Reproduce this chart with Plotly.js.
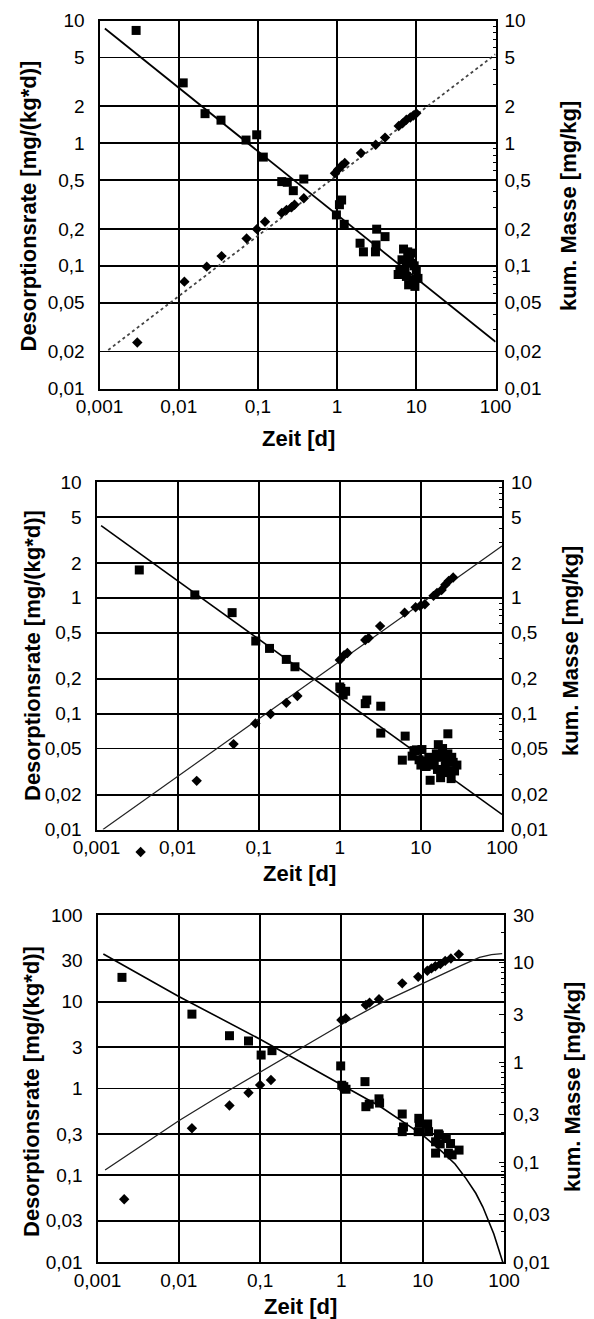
<!DOCTYPE html>
<html><head><meta charset="utf-8">
<script src="https://cdn.plot.ly/plotly-3.0.1.min.js"></script>
<style>html,body{margin:0;padding:0;background:#fff}</style>
</head><body>
<div id="chart" style="width:594px;height:1319px"></div>
<script>
// ---------- tick labels ----------
const xTickVals = [0.001, 0.01, 0.1, 1, 10, 100];
const xTickText = ['0,001', '0,01', '0,1', '1', '10', '100'];
const yTickValsA = [0.01, 0.02, 0.05, 0.1, 0.2, 0.5, 1, 2, 5, 10];
const yTickTextA = ['0,01', '0,02', '0,05', '0,1', '0,2', '0,5', '1', '2', '5', '10'];
const yTickValsC = [0.01, 0.03, 0.1, 0.3, 1, 3, 10, 30, 100];
const yTickTextC = ['0,01', '0,03', '0,1', '0,3', '1', '3', '10', '30', '100'];
const y2TickValsC = [0.01, 0.03, 0.1, 0.3, 1, 3, 10, 30];
const y2TickTextC = ['0,01', '0,03', '0,1', '0,3', '1', '3', '10', '30'];

const xTitle = 'Zeit [d]';
const yTitle = 'Desorptionsrate [mg/(kg*d)]';
const y2Title = 'kum. Masse [mg/kg]';

// ---------- panel 1 ----------
const p1RateX = [0.0029, 0.0114, 0.0215, 0.0342, 0.0708, 0.0966, 0.117, 0.20, 0.235, 0.28, 0.38, 0.98, 1.07, 1.14, 1.23, 1.95, 2.15, 3.16, 3.1, 3.05, 4.03, 5.9, 6.2, 6.6, 6.9, 7.2, 7.5, 7.5, 8.2, 8.7, 8.9, 9.1, 9.6, 10.0, 10.5, 8.0, 9.4, 7.8];
const p1RateY = [8.3, 3.1, 1.74, 1.54, 1.06, 1.17, 0.77, 0.486, 0.48, 0.41, 0.51, 0.26, 0.315, 0.344, 0.218, 0.153, 0.13, 0.199, 0.148, 0.13, 0.173, 0.085, 0.092, 0.112, 0.137, 0.092, 0.082, 0.108, 0.12, 0.105, 0.127, 0.077, 0.068, 0.092, 0.079, 0.07, 0.1, 0.13];
const p1MassX = [0.0030, 0.0118, 0.0226, 0.0348, 0.072, 0.097, 0.123, 0.20, 0.23, 0.266, 0.29, 0.38, 0.94, 1.03, 1.14, 1.25, 2.0, 3.07, 4.03, 6.0, 6.7, 7.5, 8.4, 9.2, 10];
const p1MassY = [0.0237, 0.0743, 0.0985, 0.12, 0.167, 0.199, 0.229, 0.27, 0.286, 0.30, 0.315, 0.356, 0.569, 0.61, 0.655, 0.69, 0.83, 0.97, 1.11, 1.38, 1.45, 1.55, 1.62, 1.68, 1.75];
const p1RateFitX = [0.00117, 100];
const p1RateFitY = [8.6, 0.024];
const p1MassFitX = [0.00129, 100];
const p1MassFitY = [0.0206, 5.3];

// ---------- panel 2 ----------
const p2RateX = [0.00337, 0.0163, 0.047, 0.092, 0.136, 0.219, 0.28, 1.0, 1.03, 1.1, 1.18, 2.06, 2.15, 3.2, 3.2, 6.4, 5.9, 8.2, 8.8, 10.3, 10.0, 11.6, 11.7, 13.0, 14.6, 15.5, 16.4, 17.2, 18.2, 19.2, 20.3, 21.5, 21.5, 22.4, 23.6, 25.0, 27.8, 12.5, 16, 18.5, 20, 24, 26, 17.5, 14, 7.8, 9.5];
const p2RateY = [1.74, 1.06, 0.745, 0.424, 0.366, 0.294, 0.254, 0.17, 0.165, 0.145, 0.156, 0.122, 0.131, 0.116, 0.068, 0.064, 0.0397, 0.048, 0.0487, 0.049, 0.036, 0.035, 0.039, 0.0266, 0.036, 0.045, 0.054, 0.042, 0.043, 0.031, 0.039, 0.067, 0.045, 0.032, 0.0275, 0.038, 0.036, 0.042, 0.033, 0.05, 0.035, 0.042, 0.032, 0.028, 0.04, 0.043, 0.04];
const p2MassX = [0.0035, 0.0172, 0.049, 0.091, 0.14, 0.219, 0.3, 1.0, 1.13, 1.24, 2.06, 2.27, 3.14, 6.3, 8.6, 9.8, 11.2, 14.3, 15.8, 18, 20, 22, 25];
const p2MassY = [0.0064, 0.0263, 0.0546, 0.0824, 0.0993, 0.124, 0.142, 0.29, 0.32, 0.334, 0.432, 0.45, 0.57, 0.745, 0.83, 0.85, 0.88, 1.04, 1.1, 1.17, 1.3, 1.4, 1.5];
const p2RateFitX = [0.00114, 100];
const p2RateFitY = [4.2, 0.0135];
const p2MassFitX = [0.0012, 100];
const p2MassFitY = [0.01, 2.8];

// ---------- panel 3 ----------
const p3RateX = [0.002, 0.0145, 0.042, 0.072, 0.103, 0.14, 0.98, 1.01, 1.07, 1.14, 1.95, 2.0, 2.2, 2.9, 2.95, 5.6, 5.6, 5.8, 8.96, 9.1, 8.8, 11.5, 11.8, 15.6, 16.4, 14.4, 16, 19.5, 22, 20.7, 23, 28, 14.4];
const p3RateY = [19.1, 7.2, 4.06, 3.53, 2.43, 2.73, 1.82, 1.09, 1.05, 0.98, 1.2, 0.617, 0.66, 0.76, 0.68, 0.508, 0.318, 0.36, 0.453, 0.40, 0.318, 0.39, 0.318, 0.30, 0.23, 0.243, 0.29, 0.265, 0.232, 0.18, 0.172, 0.195, 0.18];
const p3MassX = [0.00213, 0.0145, 0.042, 0.072, 0.1, 0.136, 1.0, 1.13, 2.0, 2.22, 2.9, 5.6, 8.8, 11.4, 12.8, 14.3, 16.5, 18.9, 22.2, 27.8];
const p3MassY = [0.0425, 0.219, 0.37, 0.497, 0.594, 0.667, 2.66, 2.76, 3.76, 3.97, 4.29, 6.2, 7.2, 8.3, 8.75, 9.2, 9.7, 10.4, 11.0, 12.1];
const p3RateFitX = [0.00118, 0.01, 0.1, 1, 3, 6.8, 10, 17, 25, 34, 45, 55, 65, 75, 85, 95, 98];
const p3RateFitY = [35.5, 11.5, 3.7, 1.12, 0.62, 0.37, 0.29, 0.19, 0.135, 0.092, 0.062, 0.043, 0.030, 0.021, 0.0145, 0.0104, 0.0095];
const p3MassFitX = [0.00124, 0.003, 0.01, 0.03, 0.1, 0.3, 1, 3, 10, 20, 30, 50, 70, 95];
const p3MassFitY = [0.0835, 0.135, 0.26, 0.45, 0.80, 1.35, 2.4, 3.9, 6.2, 8.1, 9.4, 11.3, 12.0, 12.3];

// ---------- styles ----------
const FONT = 'Liberation Sans, Arial, sans-serif';
const tickFont = {family: FONT, size: 19, color: '#000'};
const titleFont = {family: FONT, size: 22, color: '#000', weight: 700};

function minorVals(lo, hi) {
  const v = [];
  for (let e = lo; e < hi; e++) for (let k = 2; k <= 9; k++) v.push(k * Math.pow(10, e));
  return v;
}

function xAxis(domain, anchor) {
  return {domain: domain, anchor: anchor, type: 'log', range: [-3, 2],
    tickmode: 'array', tickvals: xTickVals, ticktext: xTickText, tickfont: tickFont,
    ticks: '', ticklabelstandoff: 0,
    showgrid: true, gridcolor: '#000', gridwidth: 1.8,
    showline: true, mirror: true, linecolor: '#000', linewidth: 2, zeroline: false, fixedrange: true};
}
function yAxis(domain, anchor, range, vals, text) {
  return {domain: domain, anchor: anchor, type: 'log', range: range,
    tickmode: 'array', tickvals: vals, ticktext: text, tickfont: tickFont,
    ticks: '', ticklabelstandoff: 9,
    showgrid: true, gridcolor: '#000', gridwidth: 1.8,
    showline: true, mirror: true, linecolor: '#000', linewidth: 2, zeroline: false, fixedrange: true};
}
function y2Axis(overlay, anchor, range, vals, text, lo, hi) {
  return {overlaying: overlay, anchor: anchor, side: 'right', type: 'log', range: range,
    tickmode: 'array', tickvals: vals, ticktext: text, tickfont: tickFont,
    ticks: 'inside', ticklen: 5, tickcolor: '#000', ticklabelstandoff: 8,
    minor: {tickmode: 'array', tickvals: minorVals(lo, hi), ticks: 'inside', ticklen: 3, tickcolor: '#000', showgrid: false},
    showgrid: false, showline: false, zeroline: false, fixedrange: true};
}

const sq = {symbol: 'square', size: 9, color: '#000'};
const dm = {symbol: 'diamond', size: 8, color: '#000'};

const traces = [
  // panel 1
  {x: p1RateFitX, y: p1RateFitY, xaxis: 'x', yaxis: 'y', mode: 'lines', line: {color: '#000', width: 1.8}},
  {x: p1MassFitX, y: p1MassFitY, xaxis: 'x', yaxis: 'y2', mode: 'lines', line: {color: '#444', width: 1.8, dash: 'dot'}},
  {x: p1RateX, y: p1RateY, xaxis: 'x', yaxis: 'y', mode: 'markers', marker: sq, cliponaxis: false},
  {x: p1MassX, y: p1MassY, xaxis: 'x', yaxis: 'y2', mode: 'markers', marker: dm, cliponaxis: false},
  // panel 2
  {x: p2RateFitX, y: p2RateFitY, xaxis: 'x2', yaxis: 'y3', mode: 'lines', line: {color: '#000', width: 1.6}},
  {x: p2MassFitX, y: p2MassFitY, xaxis: 'x2', yaxis: 'y4', mode: 'lines', line: {color: '#222', width: 1.2}},
  {x: p2RateX, y: p2RateY, xaxis: 'x2', yaxis: 'y3', mode: 'markers', marker: sq, cliponaxis: false},
  // diamonds of panel 2 on a hidden twin scale that reaches a little below the frame (one point lies under it)
  {x: p2MassX, y: p2MassY, xaxis: 'x4', yaxis: 'y7', mode: 'markers', marker: dm, cliponaxis: false},
  // panel 3
  {x: p3RateFitX, y: p3RateFitY, xaxis: 'x3', yaxis: 'y5', mode: 'lines', line: {color: '#000', width: 1.6}},
  {x: p3MassFitX, y: p3MassFitY, xaxis: 'x3', yaxis: 'y6', mode: 'lines', line: {color: '#222', width: 1.3}},
  {x: p3RateX, y: p3RateY, xaxis: 'x3', yaxis: 'y5', mode: 'markers', marker: sq, cliponaxis: false},
  {x: p3MassX, y: p3MassY, xaxis: 'x3', yaxis: 'y6', mode: 'markers', marker: dm, cliponaxis: false}
].map(t => Object.assign({type: 'scatter', hoverinfo: 'skip', showlegend: false}, t));

const W = 594, H = 1319;
function ann(text, px, py, angle, font) {
  return {text: text, x: px / W, y: 1 - py / H, xref: 'paper', yref: 'paper',
    xanchor: 'center', yanchor: 'middle', showarrow: false, textangle: angle, font: font};
}

// panel 2 geometry: 3 decades over 482..829.5 px; hidden twin extends 30 px lower
const p2Top = 482, p2Bot = 829.5, p2Ext = 30;
const p2PxPerDec = (p2Bot - p2Top) / 3;

const layout = {
  width: W, height: H, margin: {l: 0, r: 0, t: 0, b: 0},
  paper_bgcolor: '#fff', plot_bgcolor: 'rgba(0,0,0,0)', showlegend: false,
  xaxis: xAxis([99.5 / W, 495.5 / W], 'y'),
  yaxis: yAxis([1 - 388.5 / H, 1 - 20.5 / H], 'x', [-2, 1], yTickValsA, yTickTextA),
  yaxis2: y2Axis('y', 'x', [-2, 1], yTickValsA, yTickTextA, -2, 1),
  xaxis2: xAxis([96.5 / W, 502 / W], 'y3'),
  yaxis3: yAxis([1 - p2Bot / H, 1 - p2Top / H], 'x2', [-2, 1], yTickValsA, yTickTextA),
  yaxis4: y2Axis('y3', 'x2', [-2, 1], yTickValsA, yTickTextA, -2, 1),
  xaxis4: {domain: [96.5 / W, 502 / W], anchor: 'y7', type: 'log', range: [-3, 2], visible: false, fixedrange: true},
  yaxis7: {domain: [1 - (p2Bot + p2Ext) / H, 1 - p2Top / H], anchor: 'x4', type: 'log',
    range: [-2 - p2Ext / p2PxPerDec, 1], visible: false, fixedrange: true},
  xaxis3: xAxis([97.5 / W, 504 / W], 'y5'),
  yaxis5: yAxis([1 - 1262 / H, 1 - 915 / H], 'x3', [-2, 2], yTickValsC, yTickTextC),
  yaxis6: y2Axis('y5', 'x3', [-2, Math.log10(30)], y2TickValsC, y2TickTextC, -2, 2),
  annotations: [
    ann(yTitle, 28.5, 206, -90, titleFont), ann(y2Title, 569, 206, -90, titleFont), ann(xTitle, 298, 439, 0, titleFont),
    ann(yTitle, 33, 656, -90, titleFont), ann(y2Title, 570, 651, -90, titleFont), ann(xTitle, 299, 873, 0, titleFont),
    ann(yTitle, 31, 1092, -90, titleFont), ann(y2Title, 572, 1087, -90, titleFont), ann(xTitle, 300, 1306, 0, titleFont)
  ]
};

Plotly.newPlot('chart', traces, layout, {staticPlot: true, displayModeBar: false});
</script>
</body></html>
